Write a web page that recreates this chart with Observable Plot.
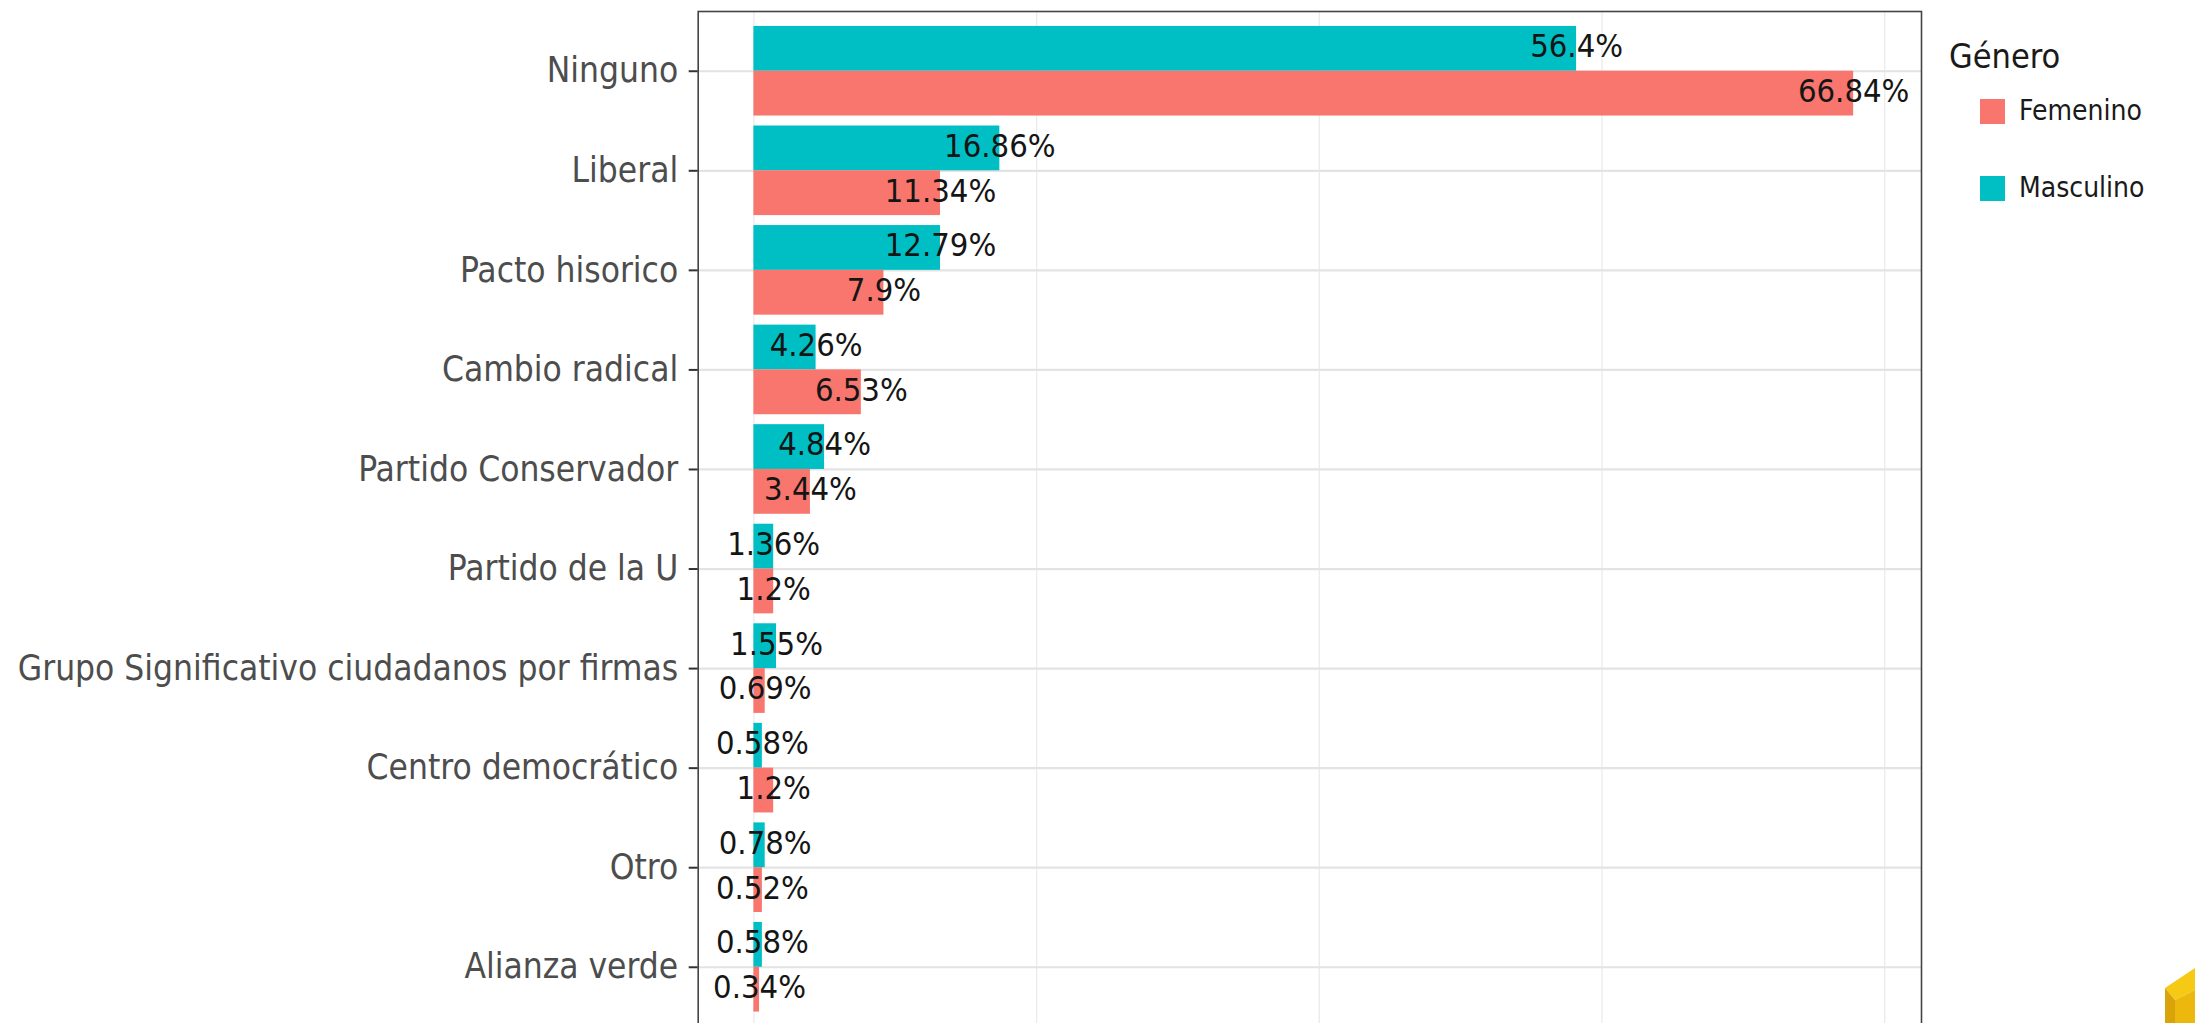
<!DOCTYPE html>
<html>
<head>
<meta charset="utf-8">
<script src="https://cdn.jsdelivr.net/npm/d3@7"></script>
<script src="https://cdn.jsdelivr.net/npm/@observablehq/plot@0.6"></script>
<style>
  html, body { margin: 0; padding: 0; background: #fff; overflow: hidden; }
  #wrap { position: relative; width: 2195px; height: 1023px; overflow: hidden; }
  .lg { position: absolute; font-family: "DejaVu Sans Condensed", "DejaVu Sans", sans-serif; font-stretch: condensed; color: #1a1a1a; white-space: nowrap; }
  .key { position: absolute; width: 25px; height: 25px; }
</style>
</head>
<body>
<div id="wrap">
  <div id="chart"></div>
  <div id="legend"></div>
  <svg style="position:absolute;left:2150px;top:960px" width="45" height="63">
    <polygon points="15,28 45,8 45,30 25,40" fill="#F6C915"/>
    <polygon points="15,28 25,40 25,63 15,63" fill="#D9A30A"/>
    <polygon points="25,40 45,30 45,63 25,63" fill="#EDB80E"/>
  </svg>
</div>
<script>
// ---- data ----
const categories = ["Ninguno", "Liberal", "Pacto hisorico", "Cambio radical", "Partido Conservador",
  "Partido de la U", "Grupo Significativo ciudadanos por firmas", "Centro democrático", "Otro", "Alianza verde"];
const masculinoCount = [291, 87, 66, 22, 25, 7, 8, 3, 4, 3];
const femeninoCount  = [389, 66, 46, 38, 20, 7, 4, 7, 3, 2];
const masculinoPct = ["56.4", "16.86", "12.79", "4.26", "4.84", "1.36", "1.55", "0.58", "0.78", "0.58"];
const femeninoPct  = ["66.84", "11.34", "7.9", "6.53", "3.44", "1.2", "0.69", "1.2", "0.52", "0.34"];
const genders = ["Femenino", "Masculino"];
const genderColors = ["#F8766D", "#00BFC4"];
const xTicks = [0, 100, 200, 300, 400];
const legendTitle = "Género";

// ---- table for the library ----
const rows = [];
categories.forEach((c, i) => {
  rows.push({idx: i, cat: c, gender: "Masculino", count: masculinoCount[i], pct: masculinoPct[i]});
  rows.push({idx: i, cat: c, gender: "Femenino", count: femeninoCount[i], pct: femeninoPct[i]});
});

const FONT = '"DejaVu Sans Condensed", "DejaVu Sans", sans-serif';
const dodge = 0.45;
const barTop = (d) => d.idx + (d.gender === "Masculino" ? -dodge : 0);
const barBottom = (d) => d.idx + (d.gender === "Masculino" ? 0 : dodge);

const chart = Plot.plot({
  width: 2195,
  height: 1100,
  marginLeft: 697.7,
  marginRight: 274,
  marginTop: 11,
  marginBottom: 73.5,
  style: {fontFamily: FONT, fontStretch: "condensed", background: "white", overflow: "visible"},
  x: {domain: [-19.7, 413], axis: null},
  y: {domain: [-0.6, categories.length - 0.4], reverse: true, axis: null},
  color: {domain: genders, range: genderColors},
  marks: [
    Plot.gridX(xTicks, {stroke: "#ebebeb", strokeOpacity: 1, strokeWidth: 1.3}),
    Plot.gridY(categories.map((_, i) => i), {stroke: "#e3e3e3", strokeOpacity: 1, strokeWidth: 2.2}),
    Plot.rect(rows, {x1: 0, x2: "count", y1: barTop, y2: barBottom, fill: "gender"}),
    Plot.text(rows, {
      x: "count",
      y: (d) => (barTop(d) + barBottom(d)) / 2,
      text: (d) => d.pct + "%",
      fontSize: 32.5,
      fill: "#151515",
      dy: -2
    }),
    Plot.frame({stroke: "#444", strokeWidth: 1.6}),
    Plot.axisY(categories.map((_, i) => i), {
      anchor: "left",
      tickFormat: (i) => categories[i],
      tickSize: 9,
      tickPadding: 11,
      fontSize: 35,
      stroke: "#333",
      strokeWidth: 2,
      fill: "#4d4d4d",
      label: null
    })
  ]
});
document.getElementById("chart").appendChild(chart);

// ---- legend (HTML, outside the SVG) ----
const lg = document.getElementById("legend");
const title = document.createElement("div");
title.className = "lg";
title.textContent = legendTitle;
title.style.cssText = "left:1949px;top:33px;font-size:34px;line-height:46px;";
lg.appendChild(title);
genders.forEach((g, i) => {
  const cy = 111 + i * 77;
  const k = document.createElement("div");
  k.className = "key";
  k.style.cssText = `left:1980px;top:${cy - 12.5}px;background:${genderColors[i]};`;
  lg.appendChild(k);
  const t = document.createElement("div");
  t.className = "lg";
  t.textContent = g;
  t.style.cssText = `left:2019px;top:${cy - 19}px;font-size:28px;line-height:38px;`;
  lg.appendChild(t);
});
</script>
</body>
</html>
